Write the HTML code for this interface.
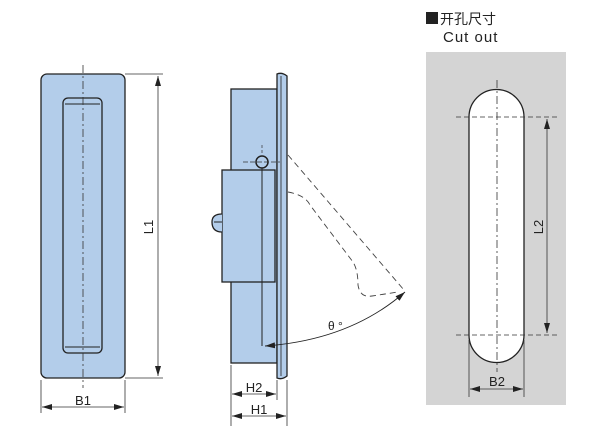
<!DOCTYPE html>
<html><head><meta charset="utf-8"><style>body{margin:0;background:#fff}svg{display:block}</style></head><body>
<svg width="601" height="442" viewBox="0 0 601 442" xmlns="http://www.w3.org/2000/svg" font-family="Liberation Sans, Noto Sans CJK SC, sans-serif">
<defs><marker id="a" markerWidth="10" markerHeight="6" refX="10" refY="3" orient="auto-start-reverse" markerUnits="userSpaceOnUse"><path d="M0,0 L10,3 L0,6z" fill="#222"/></marker></defs>
<rect x="41" y="74" width="84" height="304" rx="6" fill="#b3cdea" stroke="#222" stroke-width="1.3"/>
<rect x="63" y="98" width="39" height="255" rx="5" fill="#b3cdea" stroke="#222" stroke-width="1.3"/>
<line x1="65" y1="104" x2="100" y2="104" stroke="#222"/>
<line x1="65" y1="347" x2="100" y2="347" stroke="#222"/>
<line x1="83" y1="65" x2="83" y2="388" stroke="#333" stroke-width="0.8" stroke-dasharray="8,3,2,3"/>
<g stroke="#333" stroke-width="0.8" fill="none">
<line x1="125" y1="74" x2="163" y2="74"/><line x1="125" y1="378" x2="163" y2="378"/>
<line x1="158" y1="76" x2="158" y2="376" marker-start="url(#a)" marker-end="url(#a)"/>
<line x1="41" y1="380" x2="41" y2="413"/><line x1="125" y1="380" x2="125" y2="413"/>
<line x1="42" y1="407" x2="124" y2="407" marker-start="url(#a)" marker-end="url(#a)"/>
</g>
<text x="83" y="405" font-size="13" text-anchor="middle" fill="#222">B1</text>
<text transform="translate(153,227) rotate(-90)" font-size="13" text-anchor="middle" fill="#222">L1</text>
<rect x="231" y="89" width="46" height="274" fill="#b3cdea" stroke="#222" stroke-width="1.3"/>
<path d="M277,74 Q282,72 287,76 L287,376 Q282,380 277,378 Z" fill="#b3cdea" stroke="#222" stroke-width="1.3"/>
<line x1="281" y1="76" x2="281" y2="376" stroke="#222" stroke-width="0.8"/>
<rect x="222" y="170" width="53" height="112" fill="#b3cdea" stroke="#222" stroke-width="1.3"/>
<path d="M222,214 Q212,214 212,222 Q212,232 222,232" fill="#b3cdea" stroke="#222" stroke-width="1.3"/>
<line x1="214" y1="222" x2="222" y2="222" stroke="#222"/>
<circle cx="262" cy="162" r="6" fill="#b3cdea" stroke="#222" stroke-width="1.5"/>
<line x1="243" y1="162" x2="280" y2="162" stroke="#333" stroke-width="0.7" stroke-dasharray="5,2"/>
<line x1="262" y1="145" x2="262" y2="155" stroke="#333" stroke-width="0.7" stroke-dasharray="3,2"/>
<line x1="262" y1="168" x2="262" y2="346" stroke="#222" stroke-width="1"/>
<g stroke="#444" stroke-width="0.9" fill="none" stroke-dasharray="6,4">
<line x1="288" y1="155" x2="404" y2="290"/>
<path d="M288,192 Q305,195 310,205 L353,262 Q358,270 358,285 Q360,298 372,296 L398,292"/>
</g>
<path d="M265,346 Q350,340 405,292" fill="none" stroke="#222" stroke-width="0.9" marker-start="url(#a)" marker-end="url(#a)"/>
<text x="328" y="330" font-size="12" fill="#222">θ °</text>
<g stroke="#333" stroke-width="0.8" fill="none">
<line x1="231" y1="365" x2="231" y2="426"/><line x1="277" y1="380" x2="277" y2="400"/><line x1="287" y1="380" x2="287" y2="426"/>
<line x1="232" y1="394" x2="276" y2="394" marker-start="url(#a)" marker-end="url(#a)"/>
<line x1="232" y1="416" x2="286" y2="416" marker-start="url(#a)" marker-end="url(#a)"/>
</g>
<text x="254" y="392" font-size="13" text-anchor="middle" fill="#222">H2</text>
<text x="259" y="414" font-size="13" text-anchor="middle" fill="#222">H1</text>
<rect x="426" y="12" width="12" height="12" fill="#222"/>
<text x="440" y="24" font-size="14" fill="#222">开孔尺寸</text>
<text x="443" y="42" font-size="15" fill="#222" letter-spacing="1">Cut  out</text>
<rect x="426" y="52" width="140" height="353" fill="#d4d4d4"/>
<path d="M469,117 A27.5,27.5 0 0 1 524,117 L524,335 A27.5,27.5 0 0 1 469,335 Z" fill="#fff" stroke="#222" stroke-width="1.3"/>
<g stroke="#333" stroke-width="0.8" fill="none">
<line x1="497" y1="80" x2="497" y2="372" stroke-dasharray="8,3,2,3"/>
<line x1="456" y1="117" x2="558" y2="117" stroke-dasharray="5,3"/>
<line x1="456" y1="335" x2="558" y2="335" stroke-dasharray="5,3"/>
<line x1="547" y1="119" x2="547" y2="333" marker-start="url(#a)" marker-end="url(#a)"/>
<line x1="469" y1="340" x2="469" y2="397"/><line x1="524" y1="340" x2="524" y2="397"/>
<line x1="470" y1="389" x2="523" y2="389" marker-start="url(#a)" marker-end="url(#a)"/>
</g>
<text x="497" y="386" font-size="13" text-anchor="middle" fill="#222">B2</text>
<text transform="translate(543,227) rotate(-90)" font-size="13" text-anchor="middle" fill="#222">L2</text>
</svg>
</body></html>
